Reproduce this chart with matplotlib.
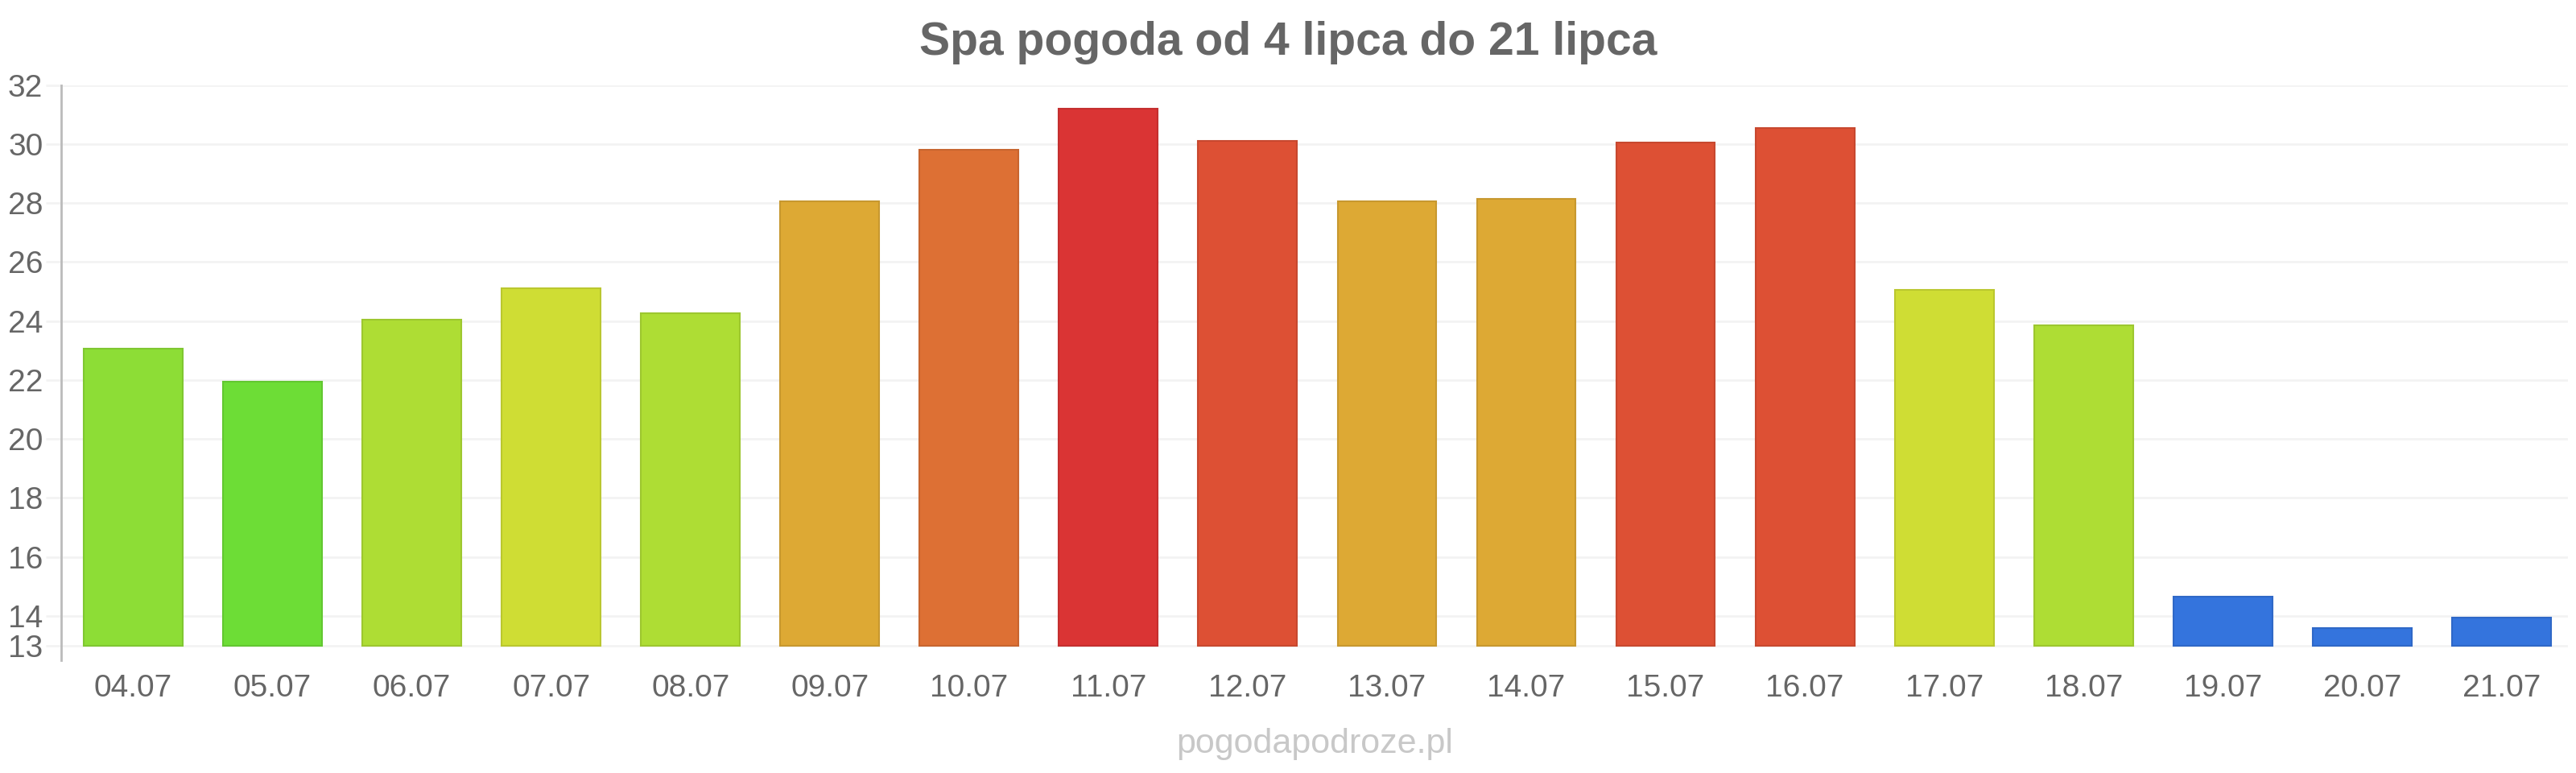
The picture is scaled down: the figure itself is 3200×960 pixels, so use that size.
import numpy as np
import matplotlib.pyplot as plt

plt.rcParams['font.family'] = ['Liberation Sans', 'DejaVu Sans']

days = ['04.07', '05.07', '06.07', '07.07', '08.07', '09.07', '10.07', '11.07', '12.07',
        '13.07', '14.07', '15.07', '16.07', '17.07', '18.07', '19.07', '20.07', '21.07']
temps = [23.05, 21.95, 24.05, 25.1, 24.25, 28.05, 29.8, 31.2, 30.1,
         28.05, 28.15, 30.05, 30.55, 25.05, 23.85, 14.65, 13.6, 13.95]
colors = ['#8ddd36', '#6ddd36', '#aedd34', '#cfdd34', '#aedd34', '#dda934', '#dd7034', '#da3434', '#dd5034',
          '#dda934', '#dda934', '#dd5034', '#dd5034', '#cfdd34', '#aedd34', '#3474dd', '#3474dd', '#3474dd']
yticks = [13, 14, 16, 18, 20, 22, 24, 26, 28, 30, 32]
base = 13

fig = plt.figure(figsize=(32, 9.6), dpi=100)
ax = fig.add_axes([0.0236, 0.146, 0.9734, 0.744])

x = np.arange(len(days))
heights = np.array(temps) - base
edge = [plt.matplotlib.colors.to_rgba(c) for c in colors]
edge = [(r * 0.9, g * 0.9, b * 0.9, 1) for r, g, b, a in edge]
ax.bar(x + 0.02, heights, bottom=base, width=0.71, color=colors, edgecolor=edge, linewidth=1.5, zorder=3)

ax.set_xlim(-0.5, len(days) - 0.5)
ax.set_ylim(12.5, 32)
ax.set_yticks(yticks)
ax.set_xticks(x + 0.02)
ax.set_xticklabels(days)
ax.grid(axis='y', color='#f3f3f3', linewidth=2, zorder=0)
ax.tick_params(axis='y', length=14, color='#f3f3f3', width=2, pad=2, labelsize=28, labelcolor='#666666')
ax.tick_params(axis='x', length=0, pad=12, labelsize=28, labelcolor='#666666')

for s in ['top', 'right', 'bottom']:
    ax.spines[s].set_visible(False)
ax.spines['left'].set_color('#bbbbbb')
ax.spines['left'].set_linewidth(2)

fig.text(0.5, 0.945, 'Spa pogoda od 4 lipca do 21 lipca', ha='center', va='center',
         fontsize=41, fontweight='bold', color='#666666')
fig.text(0.5103, 0.0375, 'pogodapodroze.pl', ha='center', va='center',
         fontsize=31, color='#c8c8c8')

fig.savefig('out.png', dpi=100)
